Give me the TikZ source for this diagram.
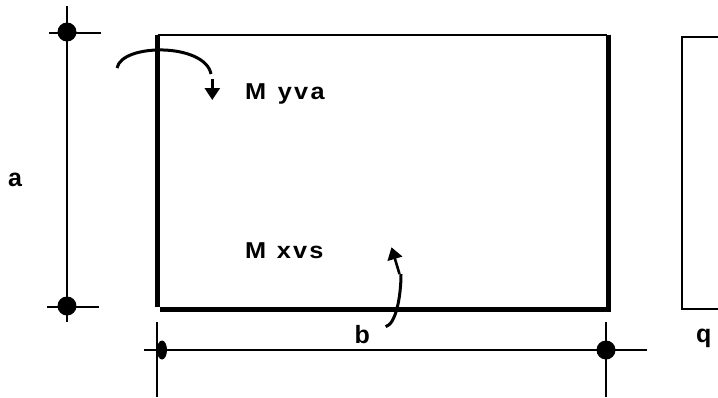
\documentclass[tikz,border=0pt]{standalone}
\usepackage{fontspec}
\setmainfont{Liberation Sans}
\newfontfamily\labfont[LetterSpace=10,FakeStretch=1.1]{Liberation Sans}
\usetikzlibrary{arrows.meta}

\begin{document}
\begin{tikzpicture}[x=1pt,y=-1pt,>={Triangle[length=12pt,width=15pt]}]
    \tikzset{dot/.style={shape=circle,fill=black,inner sep=0pt,minimum size=19pt},
        thin line/.style={line width=1.5pt},
        thick line/.style={line width=5pt},
        moment/.style={line width=3pt},
        lab/.style={font=\bfseries\fontsize{25}{25}\selectfont,inner sep=0pt,anchor=base west},
        momlab/.style={font=\labfont\bfseries\fontsize{23}{23}\selectfont,inner sep=0pt,anchor=base west}}
    \useasboundingbox (0,0) rectangle (718,397);
    % support points
    \node[dot] (da) at (67,32) {};
    \node[dot] (dc) at (67,306) {};
    \node[dot,minimum size=0pt] (dl) at (162,350) {};
    \node[dot] (dr) at (606,350) {};
    \fill (dl) ellipse (5 and 9.5);
    % plate corners
    \coordinate (tl) at (157.5,34.5);
    \coordinate (tr) at (608.5,34.5);
    \coordinate (tm) at (607,35);
    \coordinate (tn) at (157.5,35);
    \coordinate (bl) at (157.5,307);
    \coordinate (blb) at (160,309.5);
    \coordinate (br) at (608.5,309.5);
    \coordinate (brr) at (611,309.5);
    \coordinate (ql) at (682.3,37.3);
    \coordinate (qb) at (682.3,309);
    \coordinate (qt) at (718,37.3);
    \coordinate (qe) at (718,309);
    % dimension lines
    \coordinate (a0) at (67,6);
    \coordinate (a1) at (67,322);
    \coordinate (a2) at (49,33);
    \coordinate (a3) at (101,33);
    \coordinate (a4) at (47,307);
    \coordinate (a5) at (99,307);
    \coordinate (b0) at (144,350);
    \coordinate (b1) at (647,350);
    \coordinate (b2) at (157,322);
    \coordinate (b3) at (157,397);
    \coordinate (b4) at (606,322);
    \coordinate (b5) at (606,397);
    \path[draw,thin line](a0) -- (a1);
    \path[draw,thin line](a2) -- (a3);
    \path[draw,thin line](a4) -- (a5);
    \path[draw,thin line](b0) -- (b1);
    \path[draw,thin line](b2) -- (b3);
    \path[draw,thin line](b4) -- (b5);
    % plate
    \path[draw,thin line](tn) -- (tm);
    \path[draw,thick line](tl) -- (bl);
    \path[draw,thick line](tr) -- (br);
    \path[draw,thick line](blb) -- (brr);
    \path[draw,line width=1.8pt](qt) -- (ql) -- (qb) -- (qe);
    % moments
    \coordinate (m0) at (117,68);
    \coordinate (m1) at (211,74);
    \coordinate (m2) at (212.3,79);
    \coordinate (m3) at (212.3,100);
    \coordinate (n0) at (385.7,326.7);
    \coordinate (n1) at (401,274);
    \coordinate (n2) at (399.5,274);
    \coordinate (n3) at (391.5,247.3);
    \path[draw,moment](m0) .. controls (122,43) and (205,43) .. (m1);
    \path[draw,line width=2.6pt,->](m2) -- (m3);
    \path[draw,moment](n0) .. controls (396,324) and (401,296) .. (n1);
    \path[draw,line width=2.6pt,->](n2) -- (n3);
    % labels
    \node[momlab] (myva) at (245,99) {M\hspace{11.5pt}yva};
    \node[momlab] (mxvs) at (245,258) {M\hspace{10.5pt}xvs};
    \node[lab] (a) at (8,186) {a};
    \node[lab] (b) at (354.5,343) {b};
    \node[lab] (q) at (696,342) {q};
\end{tikzpicture}
\end{document}
